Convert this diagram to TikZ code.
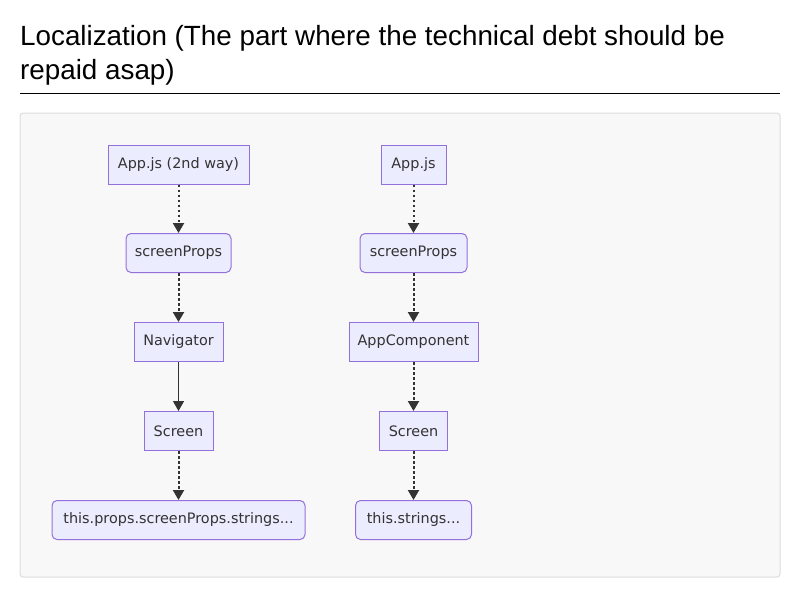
\documentclass[tikz,border=0pt]{standalone}
\usepackage{fontspec}
\setmainfont{Liberation Sans}
\newfontfamily\nodefont{DejaVu Sans}
\usetikzlibrary{arrows.meta}
\definecolor{nodefill}{HTML}{ECECFF}
\definecolor{nodeline}{HTML}{9370DB}
\definecolor{edgecol}{HTML}{333333}
\definecolor{panelfill}{HTML}{F8F8F8}
\definecolor{panelline}{HTML}{DDDDDD}
\tikzset{
  box/.style={draw=nodeline, fill=nodefill, line width=1pt, text=edgecol,
    font=\nodefont\fontsize{14.4}{17}\selectfont, minimum height=39pt, inner xsep=4pt, anchor=center},
  rbox/.style={box, rounded corners=5pt},
  dotedge/.style={draw=edgecol, line width=2pt, dash pattern=on 2.5pt off 2.5pt, -{Triangle[length=10pt,width=11pt]}},
  solidedge/.style={draw=edgecol, line width=1.3pt, -{Triangle[length=10pt,width=11pt]}},
  titletext/.style={anchor=west, inner sep=0pt, font=\fontsize{27.8}{34}\selectfont, text=black}
}
\begin{document}
\begin{tikzpicture}[x=1pt,y=-1pt]
\useasboundingbox (0,0) rectangle (800,600);
\fill[white] (0,0) rectangle (800,600);
\node[titletext] (t1) at (20,38.5) {Localization (The part where the technical debt should be};
\node[titletext] (t2) at (20,72.5) {repaid asap)};
\draw[black, line width=1pt] (20,93) -- (780,93);
\draw[panelline, fill=panelfill, line width=1pt, rounded corners=3pt] (20,113) rectangle (780,577);
% left column
\node[box, minimum width=141pt] (a1) at (178.5,164.5) {App.js (2nd way)};
\node[rbox, minimum width=105pt] (a2) at (178.5,253) {screenProps};
\node[box, minimum width=89pt] (a3) at (178.5,342) {Navigator};
\node[box, minimum width=69pt] (a4) at (178.5,431) {Screen};
\node[rbox, minimum width=253pt] (a5) at (178.5,520) {this.props.screenProps.strings...};
% right column
\node[box, minimum width=65pt] (b1) at (413.5,164.5) {App.js};
\node[rbox, minimum width=107pt] (b2) at (413.5,253) {screenProps};
\node[box, minimum width=129pt] (b3) at (413.5,342) {AppComponent};
\node[box, minimum width=68pt] (b4) at (413.5,431) {Screen};
\node[rbox, minimum width=116pt] (b5) at (413.5,520) {this.strings...};
% edges
\draw[dotedge] (a1) -- (a2);
\draw[dotedge] (a2) -- (a3);
\draw[solidedge] (a3) -- (a4);
\draw[dotedge] (a4) -- (a5);
\draw[dotedge] (b1) -- (b2);
\draw[dotedge] (b2) -- (b3);
\draw[dotedge] (b3) -- (b4);
\draw[dotedge] (b4) -- (b5);
\end{tikzpicture}
\end{document}
